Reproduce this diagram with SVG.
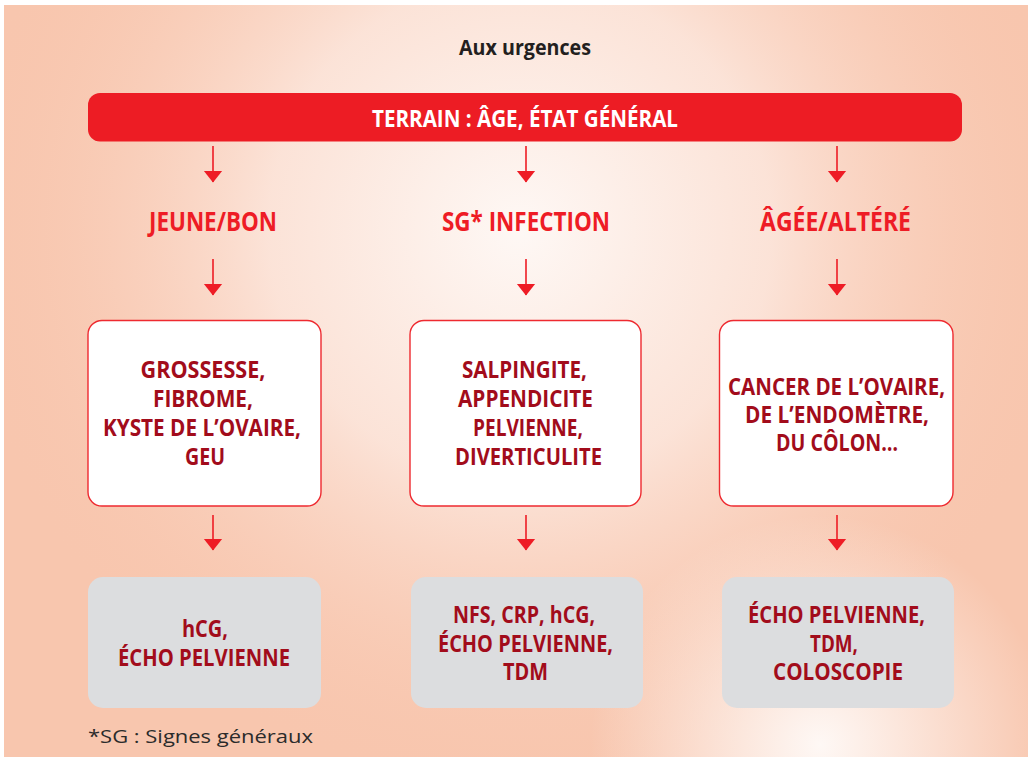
<svg xmlns="http://www.w3.org/2000/svg" width="1028" height="757" viewBox="0 0 1028 757">
<defs>
<radialGradient id="glow1" gradientUnits="userSpaceOnUse" cx="520" cy="230" r="560">
<stop offset="0" stop-color="#fef8f5" stop-opacity="1"/>
<stop offset="0.45" stop-color="#fce6dc" stop-opacity="0.9"/>
<stop offset="1" stop-color="#f8c6ae" stop-opacity="0"/>
</radialGradient>
<radialGradient id="glow2" gradientUnits="userSpaceOnUse" cx="820" cy="745" r="230">
<stop offset="0" stop-color="#fef8f5" stop-opacity="1"/>
<stop offset="1" stop-color="#fef8f5" stop-opacity="0"/>
</radialGradient>
<marker id="ah" viewBox="0 0 12 20" refX="11.5" refY="10" markerWidth="12" markerHeight="20" markerUnits="userSpaceOnUse" orient="auto">
<path d="M0,0.5 L12,10 L0,19.5 Z" fill="#ee1c25"/>
</marker>
<style>
.arrow{stroke:#ee1c25;stroke-width:1.6;fill:none;marker-end:url(#ah)}
.bx{fill:#ffffff;stroke:#ee2a30;stroke-width:1.4}
.gb{fill:#dcdddf}
.t{font-family:"Open Sans","Liberation Sans",sans-serif;font-weight:700;text-anchor:middle}
.dr{fill:#a20c1b;font-size:23px}
.lab{fill:#ee1c25;font-size:26px}
</style>
</defs>
<rect x="0" y="0" width="1028" height="757" fill="#ffffff"/>
<rect x="4" y="5" width="1024" height="752" fill="#f8c6ae"/>
<rect x="4" y="5" width="1024" height="752" fill="url(#glow1)"/>
<rect x="4" y="5" width="1024" height="752" fill="url(#glow2)"/>

<g id="title">
<text class="t" x="525" y="55" font-size="21" fill="#231f20" textLength="132" lengthAdjust="spacingAndGlyphs">Aux urgences</text>
</g>

<g id="terrain">
<rect x="88" y="93" width="874" height="48.5" rx="12" fill="#ed1c24"/>
<text class="t" x="525" y="127" font-size="24" fill="#ffffff" textLength="306" lengthAdjust="spacingAndGlyphs">TERRAIN : ÂGE, ÉTAT GÉNÉRAL</text>
</g>

<g id="connectors">
<line class="arrow" x1="213" y1="146" x2="213" y2="182"/>
<line class="arrow" x1="526" y1="146" x2="526" y2="182"/>
<line class="arrow" x1="837" y1="146" x2="837" y2="182"/>
<line class="arrow" x1="213" y1="259" x2="213" y2="295"/>
<line class="arrow" x1="526" y1="259" x2="526" y2="295"/>
<line class="arrow" x1="837" y1="259" x2="837" y2="295"/>
<line class="arrow" x1="213" y1="515" x2="213" y2="550"/>
<line class="arrow" x1="526" y1="515" x2="526" y2="550"/>
<line class="arrow" x1="837" y1="515" x2="837" y2="550"/>
</g>

<g id="label-jeune">
<text class="t lab" x="213" y="231" textLength="128" lengthAdjust="spacingAndGlyphs">JEUNE/BON</text>
</g>
<g id="label-infection">
<text class="t lab" x="526" y="231" textLength="168" lengthAdjust="spacingAndGlyphs">SG* INFECTION</text>
</g>
<g id="label-agee">
<text class="t lab" x="835.5" y="231" textLength="151" lengthAdjust="spacingAndGlyphs">ÂGÉE/ALTÉRÉ</text>
</g>

<g id="box-jeune">
<rect class="bx" x="88" y="320.5" width="233" height="185.5" rx="14"/>
<text class="t dr" x="203" y="378" textLength="125" lengthAdjust="spacingAndGlyphs">GROSSESSE,</text>
<text class="t dr" x="203" y="407" textLength="100" lengthAdjust="spacingAndGlyphs">FIBROME,</text>
<text class="t dr" x="202" y="436" textLength="198" lengthAdjust="spacingAndGlyphs">KYSTE DE L’OVAIRE,</text>
<text class="t dr" x="205" y="465" textLength="40" lengthAdjust="spacingAndGlyphs">GEU</text>
</g>

<g id="box-infection">
<rect class="bx" x="410" y="320.5" width="231" height="185.5" rx="14"/>
<text class="t dr" x="524.5" y="378" textLength="125" lengthAdjust="spacingAndGlyphs">SALPINGITE,</text>
<text class="t dr" x="525.5" y="407" textLength="135" lengthAdjust="spacingAndGlyphs">APPENDICITE</text>
<text class="t dr" x="528" y="436" textLength="110" lengthAdjust="spacingAndGlyphs">PELVIENNE,</text>
<text class="t dr" x="528.5" y="465" textLength="147" lengthAdjust="spacingAndGlyphs">DIVERTICULITE</text>
</g>

<g id="box-agee">
<rect class="bx" x="719.5" y="320.5" width="233.5" height="185.5" rx="14"/>
<text class="t dr" x="836.5" y="395" textLength="217" lengthAdjust="spacingAndGlyphs">CANCER DE L’OVAIRE,</text>
<text class="t dr" x="837" y="423" textLength="184" lengthAdjust="spacingAndGlyphs">DE L’ENDOMÈTRE,</text>
<text class="t dr" x="837" y="451" textLength="122" lengthAdjust="spacingAndGlyphs">DU CÔLON…</text>
</g>

<g id="exam-jeune">
<rect class="gb" x="88" y="577" width="233" height="131" rx="15"/>
<text class="t dr" x="205" y="637" textLength="46" lengthAdjust="spacingAndGlyphs">hCG,</text>
<text class="t dr" x="204" y="666" textLength="172" lengthAdjust="spacingAndGlyphs">ÉCHO PELVIENNE</text>
</g>

<g id="exam-infection">
<rect class="gb" x="411" y="577" width="232" height="131" rx="15"/>
<text class="t dr" x="524" y="623" textLength="142" lengthAdjust="spacingAndGlyphs">NFS, CRP, hCG,</text>
<text class="t dr" x="525.5" y="652" textLength="175" lengthAdjust="spacingAndGlyphs">ÉCHO PELVIENNE,</text>
<text class="t dr" x="525.5" y="680" textLength="45" lengthAdjust="spacingAndGlyphs">TDM</text>
</g>

<g id="exam-agee">
<rect class="gb" x="722" y="577" width="232" height="131" rx="15"/>
<text class="t dr" x="836.5" y="623" textLength="177" lengthAdjust="spacingAndGlyphs">ÉCHO PELVIENNE,</text>
<text class="t dr" x="834" y="652" textLength="48" lengthAdjust="spacingAndGlyphs">TDM,</text>
<text class="t dr" x="838" y="680" textLength="130" lengthAdjust="spacingAndGlyphs">COLOSCOPIE</text>
</g>

<g id="footnote">
<text x="88" y="743" font-family="'Open Sans','Liberation Sans',sans-serif" font-size="19" fill="#2b2b2b" textLength="225" lengthAdjust="spacingAndGlyphs">*SG : Signes généraux</text>
</g>
</svg>
